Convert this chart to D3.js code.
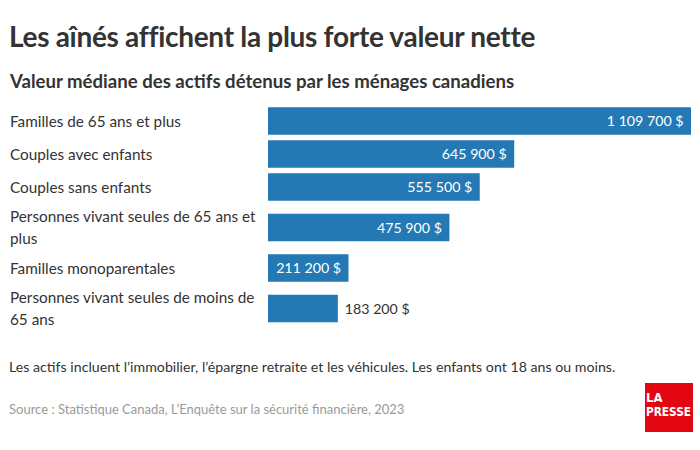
<!DOCTYPE html>
<html><head><meta charset="utf-8">
<script src="https://cdn.jsdelivr.net/npm/d3@7"></script>
<style>
html,body{margin:0;padding:0;background:#fff;}
svg{display:block;font-family:Lato,"Open Sans",sans-serif;}
</style></head>
<body>
<svg id="chart" width="700" height="450"></svg>
<script>
const titleText = "Les aînés affichent la plus forte valeur nette";
const subtitleText = "Valeur médiane des actifs détenus par les ménages canadiens";
const categories = [
  "Familles de 65 ans et plus",
  "Couples avec enfants",
  "Couples sans enfants",
  "Personnes vivant seules de 65 ans et plus",
  "Familles monoparentales",
  "Personnes vivant seules de moins de 65 ans"
];
const values = [1109700, 645900, 555500, 475900, 211200, 183200];
const noteText = "Les actifs incluent l’immobilier, l’épargne retraite et les véhicules. Les enfants ont 18 ans ou moins.";
const sourceText = "Source : Statistique Canada, L’Enquête sur la sécurité financière, 2023";

(function () {
const svg = d3.select("#chart");
const barColor = "#2479b5";
const textColor = "#333333";

svg.append("text").attr("x", 9).attr("y", 46.5)
  .attr("font-size", 28).attr("font-weight", 700).attr("fill", textColor)
  .attr("letter-spacing", "-0.3").text(titleText);
svg.append("text").attr("x", 10).attr("y", 87.5)
  .attr("font-size", 18.6).attr("font-weight", 700).attr("fill", textColor)
  .text(subtitleText);

const fr = d3.formatLocale({decimal: ",", thousands: "\u00a0", grouping: [3], currency: ["", "\u00a0$"]});
const fmt = fr.format("$,.0f");

const x0 = 268, x1 = 691;
const x = d3.scaleLinear().domain([0, d3.max(values)]).range([x0, x1]);

const labelSize = 15.3;
const maxLabelW = 252;
const measure = svg.append("text").attr("font-size", labelSize).attr("visibility", "hidden");
function wrap(str) {
  const words = str.split(" ");
  const lines = [];
  let cur = "";
  words.forEach(w => {
    const test = cur ? cur + " " + w : w;
    measure.text(test);
    if (measure.node().getComputedTextLength() > maxLabelW && cur) {
      lines.push(cur); cur = w;
    } else cur = test;
  });
  if (cur) lines.push(cur);
  return lines;
}
const wrapped = categories.map(wrap);
measure.remove();

const rowH = wrapped.map(l => 18 + 15 * l.length);
const startY = 104.5;
const centers = [];
let acc = startY;
rowH.forEach(h => { centers.push(acc + h / 2); acc += h; });
const y = d3.scaleOrdinal().domain(categories).range(centers);
const barH = 27.5;
const lineH = 22;

const rows = svg.append("g").selectAll("g").data(categories).join("g");

rows.each(function(c, i) {
  const g = d3.select(this);
  const cy = y(c);
  const lines = wrapped[i];
  const t = g.append("text").attr("font-size", labelSize).attr("fill", textColor);
  lines.forEach((ln, k) => {
    t.append("tspan").attr("x", 10)
      .attr("y", cy - (lines.length - 1) * lineH / 2 + k * lineH + 5.6)
      .text(ln);
  });
  g.append("rect").attr("x", x(0)).attr("y", cy - barH / 2)
    .attr("width", x(values[i]) - x(0)).attr("height", barH)
    .attr("fill", barColor);
  const label = fmt(values[i]);
  const lbl = g.append("text").attr("font-size", 14.2).attr("y", cy + 5.2).text(label);
  const w = lbl.node().getComputedTextLength();
  const bw = x(values[i]) - x(0);
  if (w + 10 < bw) {
    lbl.attr("x", x(values[i]) - 7.5).attr("text-anchor", "end").attr("fill", "#fff");
  } else {
    lbl.attr("x", x(values[i]) + 7).attr("fill", textColor);
  }
});

svg.append("text").attr("x", 9).attr("y", 372)
  .attr("font-size", 14.2).attr("fill", textColor).text(noteText);
svg.append("text").attr("x", 9).attr("y", 414)
  .attr("font-size", 13).attr("fill", "#9a9a9a").text(sourceText);

const logo = svg.append("g");
logo.append("rect").attr("x", 645).attr("y", 383).attr("width", 48).attr("height", 49).attr("fill", "#e30613");
logo.append("text").attr("x", 646).attr("y", 402).attr("font-size", 13).attr("font-weight", 700)
  .attr("font-family", "'Liberation Sans Narrow','DejaVu Sans Condensed',sans-serif")
  .attr("fill", "#fff").text("LA");
logo.append("text").attr("x", 646).attr("y", 416).attr("font-size", 13).attr("font-weight", 700)
  .attr("font-family", "'Liberation Sans Narrow','DejaVu Sans Condensed',sans-serif")
  .attr("textLength", 45).attr("lengthAdjust", "spacingAndGlyphs")
  .attr("fill", "#fff").text("PRESSE");
})();
</script>
</body></html>
